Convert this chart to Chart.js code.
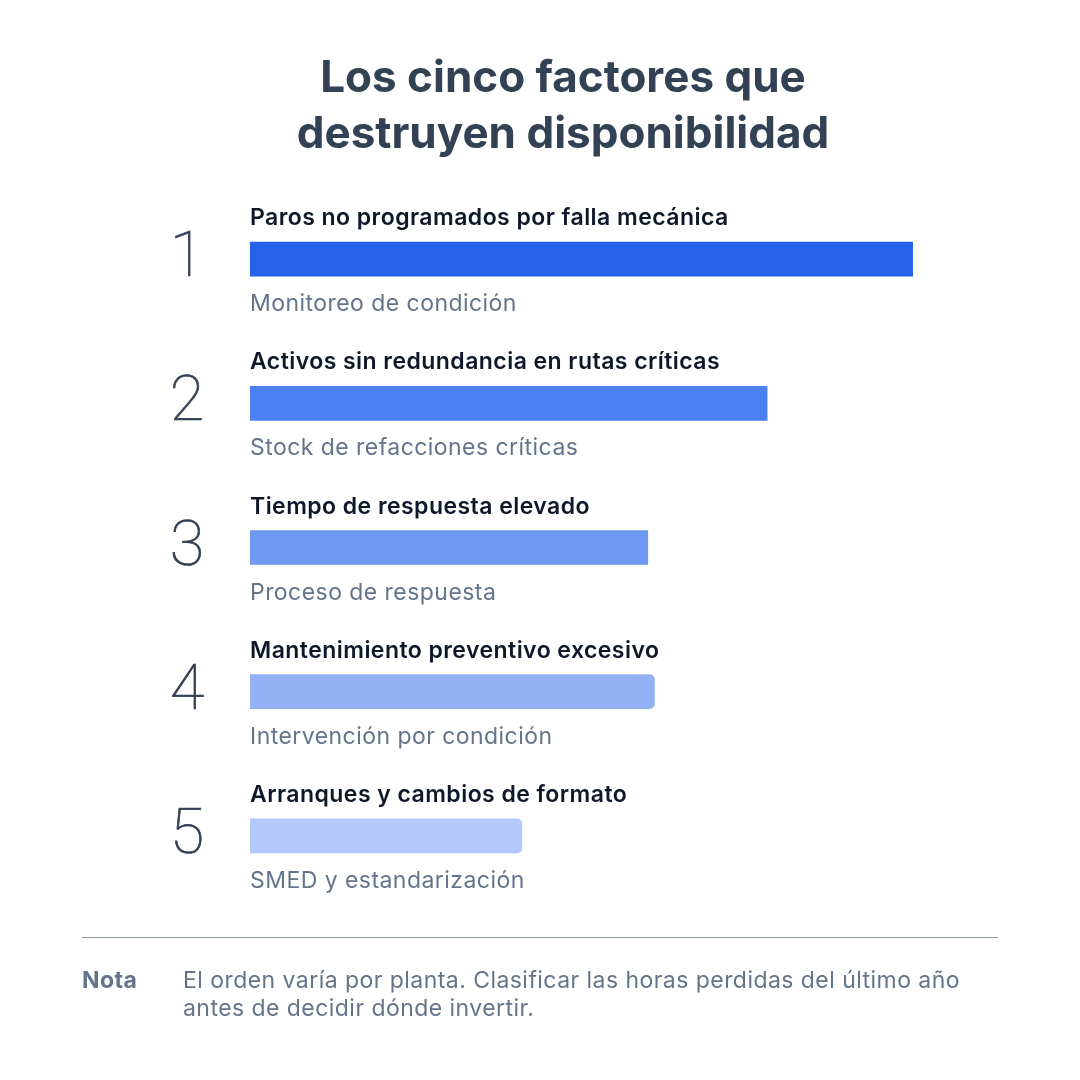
<!DOCTYPE html>
<html>
<head>
<meta charset="utf-8">
<script src="https://cdn.jsdelivr.net/npm/chart.js@4.4.1/dist/chart.umd.min.js"></script>
<style>
  html, body { margin: 0; padding: 0; background: #ffffff; }
  #wrap { width: 1080px; height: 1080px; position: relative; }
</style>
</head>
<body>
<div id="wrap"><canvas id="chart" width="1080" height="1080"></canvas></div>
<script>
// data
var ranks = ['1', '2', '3', '4', '5'];
var factors = [
  'Paros no programados por falla mecánica',
  'Activos sin redundancia en rutas críticas',
  'Tiempo de respuesta elevado',
  'Mantenimiento preventivo excesivo',
  'Arranques y cambios de formato'
];
var remedies = [
  'Monitoreo de condición',
  'Stock de refacciones críticas',
  'Proceso de respuesta',
  'Intervención por condición',
  'SMED y estandarización'
];
var impact = [100, 78, 60, 61, 41];

var titleLines = ['Los cinco factores que', 'destruyen disponibilidad'];
var noteLabel = 'Nota';
var noteLines = [
  'El orden varía por planta. Clasificar las horas perdidas del último año',
  'antes de decidir dónde invertir.'
];

var barColors = ['#2563eb', '#4b80f0', '#6f98f2', '#93b1f5', '#b2c8f8'];
var radii = [0, 0, 0, 5, 5];

var FONT = 'Inter, "Noto Sans", sans-serif';

var textPlugin = {
  id: 'rowText',
  afterDatasetsDraw: function(chart) {
    var ctx = chart.ctx;
    var area = chart.chartArea;
    var bars = chart.getDatasetMeta(0).data;
    ctx.save();
    ctx.textBaseline = 'alphabetic';

    // title
    ctx.fillStyle = '#334155';
    ctx.textAlign = 'center';
    ctx.font = '700 44px ' + FONT;
    ctx.fillText(titleLines[0], 563, 92);
    ctx.fillText(titleLines[1], 563, 148);

    bars.forEach(function(bar, i) {
      var y = bar.y;
      // big rank number, thin (a hair of stroke to thicken it)
      ctx.letterSpacing = '0px';
      ctx.textAlign = 'center';
      ctx.fillStyle = '#334155';
      ctx.strokeStyle = '#334155';
      ctx.lineWidth = 0.7;
      ctx.font = '100 63px Roboto, ' + FONT;
      ctx.fillText(ranks[i], area.left - 63, y + 17);
      ctx.strokeText(ranks[i], area.left - 63, y + 17);

      ctx.textAlign = 'left';
      ctx.letterSpacing = '0.45px';
      ctx.fillStyle = '#0f172a';
      ctx.font = '600 23px ' + FONT;
      ctx.fillText(factors[i], area.left, y - 34);

      ctx.fillStyle = '#64748b';
      ctx.font = '400 23px ' + FONT;
      ctx.fillText(remedies[i], area.left, y + 52);
    });

    // rule + note
    ctx.strokeStyle = '#8b97a8';
    ctx.lineWidth = 1.2;
    ctx.beginPath();
    ctx.moveTo(82, 937.5);
    ctx.lineTo(998, 937.5);
    ctx.stroke();

    ctx.textAlign = 'left';
    ctx.letterSpacing = '0.45px';
    ctx.fillStyle = '#64748b';
    ctx.font = '700 23px ' + FONT;
    ctx.fillText(noteLabel, 82, 988);
    ctx.font = '400 23px ' + FONT;
    ctx.fillText(noteLines[0], 183, 988);
    ctx.fillText(noteLines[1], 183, 1016);
    ctx.restore();
  }
};

function draw() {
  new Chart(document.getElementById('chart'), {
    type: 'bar',
    data: {
      labels: factors,
      datasets: [{
        data: impact,
        backgroundColor: barColors,
        borderRadius: radii,
        borderSkipped: 'start',
        barThickness: 34
      }]
    },
    options: {
      indexAxis: 'y',
      responsive: false,
      animation: false,
      layout: { padding: { left: 250, right: 167, top: 187, bottom: 172 } },
      scales: {
        x: { display: false, min: 0, max: 100 },
        y: { display: false }
      },
      plugins: {
        legend: { display: false },
        tooltip: { enabled: false }
      }
    },
    plugins: [textPlugin]
  });
}

Promise.all([
  document.fonts.load('700 44px Inter'),
  document.fonts.load('600 23px Inter'),
  document.fonts.load('400 23px Inter'),
  document.fonts.load('100 63px Roboto')
]).then(draw, draw);
</script>
</body>
</html>
